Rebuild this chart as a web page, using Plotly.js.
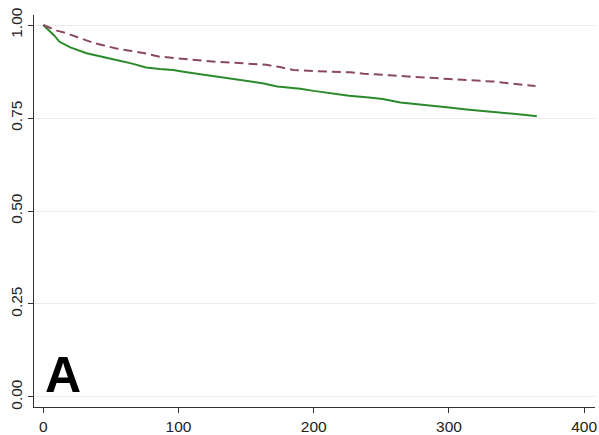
<!DOCTYPE html>
<html>
<head>
<meta charset="utf-8">
<script src="https://cdn.plot.ly/plotly-3.0.1.min.js"></script>
<style>html,body{margin:0;padding:0;background:#fff;}#chart{width:599px;height:435px;}</style>
</head>
<body>
<div id="chart"></div>
<script>
// Green solid series
var greenDays = [0, 3, 8, 12, 20, 32, 43, 54, 65, 76, 86, 96, 106, 116, 130, 140, 153, 163, 173, 190, 200, 214, 226, 239, 251, 264, 276, 288, 300, 313, 325, 338, 348, 357, 365];
var greenSurv = [1.0, 0.99, 0.972, 0.955, 0.94, 0.924, 0.914, 0.906, 0.897, 0.886, 0.882, 0.879, 0.873, 0.868, 0.861, 0.856, 0.848, 0.843, 0.835, 0.829, 0.823, 0.815, 0.81, 0.806, 0.801, 0.792, 0.787, 0.781, 0.778, 0.773, 0.769, 0.766, 0.762, 0.758, 0.755];
// Maroon dashed series
var redDays = [0, 5, 10, 17, 27, 37, 45, 54, 64, 74, 86, 100, 116, 128, 140, 153, 165, 175, 185, 202, 215, 227, 237, 247, 256, 264, 276, 288, 300, 313, 323, 333, 345, 355, 364];
var redSurv = [1.0, 0.992, 0.985, 0.978, 0.965, 0.952, 0.945, 0.937, 0.931, 0.925, 0.915, 0.91, 0.904, 0.901, 0.899, 0.896, 0.893, 0.887, 0.879, 0.876, 0.875, 0.873, 0.869, 0.866, 0.865, 0.863, 0.861, 0.858, 0.855, 0.852, 0.85, 0.848, 0.843, 0.84, 0.836];
var xTicks = [0, 100, 200, 300, 400];
var yTicks = [0, 0.25, 0.5, 0.75, 1.0];
var yTickText = ['0.00', '0.25', '0.50', '0.75', '1.00'];
var panelLabel = 'A';

var traces = [
  {x: greenDays, y: greenSurv, type: 'scatter', mode: 'lines',
   line: {color: '#2a8a2a', width: 2}, hoverinfo: 'skip'},
  {x: redDays, y: redSurv, type: 'scatter', mode: 'lines',
   line: {color: '#8a4a5c', width: 2, dash: '9px,5px'}, hoverinfo: 'skip'}
];

var layout = {
  width: 599, height: 435,
  margin: {l: 34, r: 4, t: 15, b: 28},
  paper_bgcolor: '#fff', plot_bgcolor: '#fff',
  showlegend: false,
  font: {family: 'Liberation Sans, Arial, sans-serif', color: '#222'},
  xaxis: {
    range: [-6.9, 408], tickvals: xTicks, ticktext: xTicks.map(String),
    showgrid: false, zeroline: false, showline: true, linecolor: '#333', linewidth: 1,
    ticks: 'outside', ticklen: 5, tickcolor: '#333', tickfont: {size: 15.5, color: '#222'}
  },
  yaxis: {
    range: [-0.027, 1.027], tickvals: yTicks, ticktext: yTickText, tickangle: -90,
    showgrid: true, gridcolor: '#eaeaea', gridwidth: 1, zeroline: false,
    showline: true, linecolor: '#333', linewidth: 1,
    ticks: 'outside', ticklen: 5, tickcolor: '#333', tickfont: {size: 15.5, color: '#222'}
  },
  annotations: [{
    text: '<b>' + panelLabel + '</b>', xref: 'paper', yref: 'paper',
    x: 0.016, y: 0.005, xanchor: 'left', yanchor: 'bottom', showarrow: false,
    font: {size: 50, color: '#000', family: 'Liberation Sans, Arial, sans-serif'}
  }]
};

Plotly.newPlot('chart', traces, layout, {displayModeBar: false, staticPlot: true});
</script>
</body>
</html>
